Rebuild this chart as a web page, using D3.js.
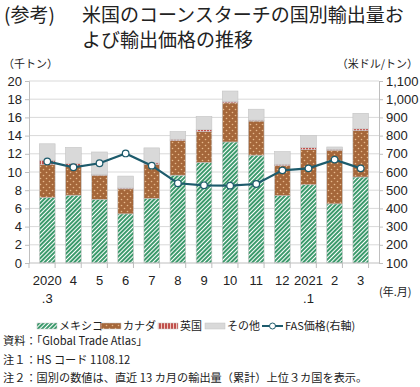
<!DOCTYPE html>
<html>
<head>
<meta charset="utf-8">
<script src="https://cdn.jsdelivr.net/npm/d3@7"></script>
<style>
body { margin: 0; background: #fff; }
text { font-family: "Noto Sans CJK JP", "Noto Sans", sans-serif; fill: #222; }
</style>
</head>
<body>
<div id="chart"></div>
<script>
// data
var months = ["2020\n.3", "4", "5", "6", "7", "8", "9", "10", "11", "12", "2021\n.1", "2", "3"];
var mexico = [7.2, 7.45, 7.0, 5.4, 7.1, 9.65, 11.05, 13.3, 11.85, 7.4, 8.6, 6.5, 9.45];
var canada = [3.6, 3.15, 2.65, 2.75, 3.75, 3.8, 3.4, 4.3, 3.75, 3.3, 3.85, 5.9, 5.1];
var uk = [0.5, 0.35, 0.05, 0.1, 0.15, 0.15, 0.2, 0.15, 0.1, 0.15, 0.25, 0.1, 0.2];
var other = [1.8, 1.75, 2.5, 1.3, 1.65, 0.85, 1.45, 1.15, 1.2, 1.4, 1.3, 0.25, 1.7];
var price = [658, 626, 648, 702, 635, 538, 527, 525, 534, 609, 620, 668, 620];
var leftTicks = [0, 2, 4, 6, 8, 10, 12, 14, 16, 18, 20];
var rightTicks = [100, 200, 300, 400, 500, 600, 700, 800, 900, 1000, 1100];

var width = 420, height = 387;
var svg = d3.select("#chart").append("svg").attr("width", width).attr("height", height);

// patterns
var defs = svg.append("defs");
var pg = defs.append("pattern").attr("id", "pGreen").attr("patternUnits", "userSpaceOnUse")
  .attr("width", 3).attr("height", 3).attr("patternTransform", "rotate(45)");
pg.append("rect").attr("width", 3).attr("height", 3).attr("fill", "#ffffff");
pg.append("rect").attr("width", 2).attr("height", 3).attr("fill", "#3c9a6c");

var pb = defs.append("pattern").attr("id", "pBrown").attr("patternUnits", "userSpaceOnUse")
  .attr("width", 6).attr("height", 6);
pb.append("rect").attr("width", 6).attr("height", 6).attr("fill", "#a5673a");
pb.append("circle").attr("cx", 1.5).attr("cy", 1.5).attr("r", 0.8).attr("fill", "#e7b98c");
pb.append("circle").attr("cx", 4.5).attr("cy", 4.5).attr("r", 0.8).attr("fill", "#e7b98c");

var pr = defs.append("pattern").attr("id", "pRed").attr("patternUnits", "userSpaceOnUse")
  .attr("width", 3).attr("height", 3);
pr.append("rect").attr("width", 3).attr("height", 3).attr("fill", "#c0504d");
pr.append("rect").attr("x", 2).attr("width", 1).attr("height", 3).attr("fill", "#f0c8c0");

var x = d3.scaleBand().domain(months).range([29, 379]).padding(0.4);
var y = d3.scaleLinear().domain([0, 20]).range([263, 81]);
var y2 = d3.scaleLinear().domain([100, 1100]).range([263, 81]);

// title
svg.append("text").attr("x", 4).attr("y", 22).style("font-size", "19px").text("(参考)");
svg.append("text").attr("x", 82).attr("y", 22).style("font-size", "19px").text("米国のコーンスターチの国別輸出量お");
svg.append("text").attr("x", 82).attr("y", 47).style("font-size", "19px").text("よび輸出価格の推移");

svg.append("text").attr("x", 3).attr("y", 68).style("font-size", "11px").text("（千トン）");
svg.append("text").attr("x", 418).attr("y", 68).attr("text-anchor", "end").style("font-size", "11px").text("（米ドル/トン）");

// grid
svg.append("g").selectAll("line").data(leftTicks.slice(1)).join("line")
  .attr("x1", 29).attr("x2", 379).attr("y1", function(d) { return y(d); }).attr("y2", function(d) { return y(d); })
  .attr("stroke", "#d9d9d9").attr("stroke-width", 1);

// axes
var axL = svg.append("g").attr("transform", "translate(29,0)")
  .call(d3.axisLeft(y).tickValues(leftTicks).tickSize(4).tickPadding(3));
var axR = svg.append("g").attr("transform", "translate(379,0)")
  .call(d3.axisRight(y2).tickValues(rightTicks).tickSize(4).tickPadding(3).tickFormat(d3.format(",")));
[axL, axR].forEach(function(a) {
  a.select(".domain").attr("stroke", "#bfbfbf");
  a.selectAll(".tick line").attr("stroke", "#bfbfbf");
  a.selectAll("text").style("font-size", "13px").style("font-family", "Liberation Sans, Arial, sans-serif").attr("fill", "#222");
});

// bars
var stack = months.map(function(m, i) { return { m: m, vals: [mexico[i], canada[i], uk[i], other[i]] }; });
var fills = ["url(#pGreen)", "url(#pBrown)", "url(#pRed)", "#d9d9d9"];
stack.forEach(function(d) {
  var base = 0;
  d.vals.forEach(function(v, k) {
    svg.append("rect").attr("x", x(d.m)).attr("width", x.bandwidth())
      .attr("y", y(base + v)).attr("height", y(base) - y(base + v))
      .attr("fill", fills[k]).attr("stroke", "#c4c4c4").attr("stroke-width", 0.6);
    base += v;
  });
});

// x axis
svg.append("line").attr("x1", 29).attr("x2", 379).attr("y1", 263).attr("y2", 263).attr("stroke", "#bfbfbf");
var step = x.step();
svg.append("g").selectAll("line").data(d3.range(months.length + 1)).join("line")
  .attr("x1", function(i) { return 29 + i * step; }).attr("x2", function(i) { return 29 + i * step; })
  .attr("y1", 263).attr("y2", 268).attr("stroke", "#bfbfbf");
svg.append("g").selectAll("text").data(months).join("text")
  .attr("text-anchor", "middle").style("font-size", "13px").style("font-family", "Liberation Sans, Arial, sans-serif")
  .each(function(d) {
    var t = d3.select(this);
    d.split("\n").forEach(function(p, j) {
      t.append("tspan").attr("x", x(d) + x.bandwidth() / 2).attr("y", 285 + j * 18).text(p);
    });
  });
svg.append("text").attr("x", 379).attr("y", 296).style("font-size", "11px").text("(年.月)");

// price line
var line = d3.line().x(function(d, i) { return x(months[i]) + x.bandwidth() / 2; }).y(function(d) { return y2(d); });
svg.append("path").datum(price).attr("d", line).attr("fill", "none").attr("stroke", "#1d5b6c").attr("stroke-width", 2.2);
svg.append("g").selectAll("circle").data(price).join("circle")
  .attr("cx", function(d, i) { return x(months[i]) + x.bandwidth() / 2; }).attr("cy", function(d) { return y2(d); })
  .attr("r", 3.3).attr("fill", "#fff").attr("stroke", "#1d5b6c").attr("stroke-width", 1.2);

// legend
var lg = svg.append("g").attr("transform", "translate(0,327)");
var items = [
  { label: "メキシコ", x: 37, fill: "url(#pGreen)" },
  { label: "カナダ", x: 101, fill: "url(#pBrown)" },
  { label: "英国", x: 158, fill: "url(#pRed)" },
  { label: "その他", x: 205, fill: "#d9d9d9" }
];
items.forEach(function(it) {
  lg.append("rect").attr("x", it.x).attr("y", -4).attr("width", 20).attr("height", 6).attr("fill", it.fill).attr("stroke", "#c4c4c4").attr("stroke-width", 0.5);
  lg.append("text").attr("x", it.x + 22).attr("y", 3).style("font-size", "11px").text(it.label);
});
lg.append("line").attr("x1", 262).attr("x2", 283).attr("y1", -1).attr("y2", -1).attr("stroke", "#1d5b6c").attr("stroke-width", 2);
lg.append("circle").attr("cx", 272.5).attr("cy", -1).attr("r", 3).attr("fill", "#fff").attr("stroke", "#1d5b6c");
lg.append("text").attr("x", 285).attr("y", 3).style("font-size", "11px").text("FAS価格(右軸)");

// notes
var notes = ["資料：「Global Trade Atlas」", "注１：HS コード 1108.12", "注２：国別の数値は、直近 13 カ月の輸出量（累計）上位３カ国を表示。"];
svg.append("g").selectAll("text").data(notes).join("text")
  .attr("x", 3).attr("y", function(d, i) { return 345 + i * 18.5; })
  .style("font-size", "11.2px").text(function(d) { return d; });
</script>
</body>
</html>
